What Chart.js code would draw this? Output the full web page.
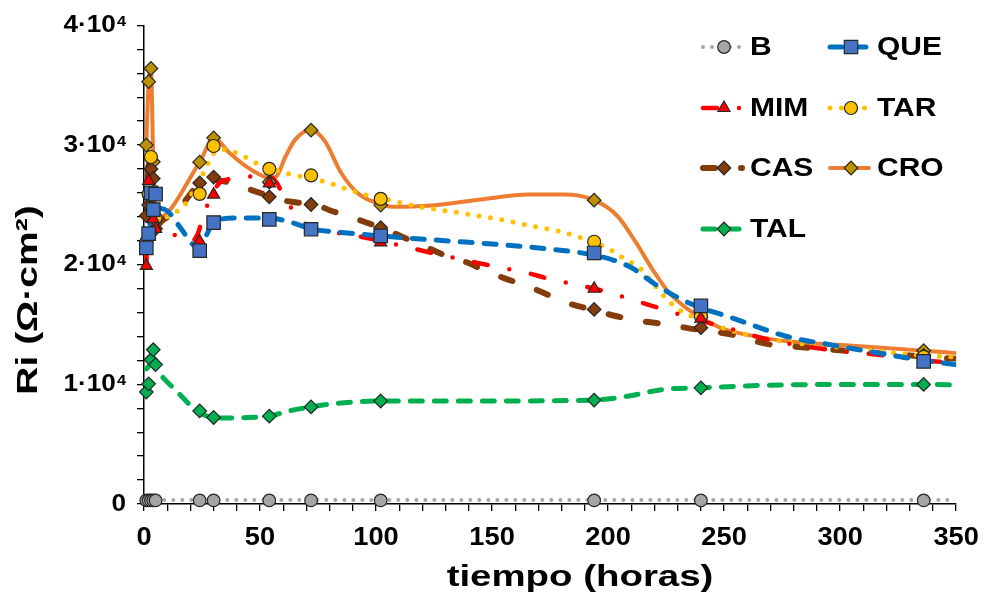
<!DOCTYPE html>
<html>
<head>
<meta charset="utf-8">
<script src="https://cdn.jsdelivr.net/npm/chart.js@4"></script>
<style>
  html, body { margin: 0; padding: 0; background: #ffffff; }
  #lienzo { display: block; }
</style>
</head>
<body>
<canvas id="lienzo" width="989" height="594"></canvas>
<script>
// Tiempos de medida (horas)
const horas = [1, 2, 3, 4, 5, 24, 30, 54, 72, 102, 194, 240, 336];

// Resistencia Ri (Ω·cm²) medida para cada inhibidor
const riB   = [300, 300, 300, 300, 300, 300, 300, 300, 300, 300, 300, 300, 300];
const riQUE = [21400, 22600, 26000, 24600, 25900, 21170, 23520, 23790, 22960, 22410, 20980, 16560, 11920];
const riMIM = [19900, 27000, 24800, 23800, 23000, 21940, 25860, 26800, 22900, 21860, 17990, 15500, 11780];
const riTAR = [21900, 25900, 29000, 24500, 23900, 25920, 29920, 28010, 27460, 25500, 21920, 15700, 12300];
const riCAS = [24100, 25000, 28000, 27200, 23000, 26830, 27320, 25670, 25030, 23100, 16260, 14740, 12400];
const riCRO = [30000, 35300, 36400, 28600, 23800, 28570, 30600, 26900, 31240, 24980, 25390, 15590, 12810];
const riTAL = [9360, 10040, 12060, 12890, 11650, 7780, 7230, 7340, 8110, 8610, 8690, 9710, 9990];

// Curvas de ajuste suavizadas (horas, Ri)
const ajusteB_h   = [1, 350];
const ajusteB_ri  = [330, 330];
const ajusteQUE_h  = [1, 2, 3, 4, 6, 10, 16, 21, 24, 27, 30, 40, 54, 64, 72, 85, 102, 130, 152, 175, 194, 205, 211, 220, 231, 240, 252, 277, 296, 320, 336, 350];
const ajusteQUE_ri = [21400, 22500, 24000, 24700, 24700, 24500, 23000, 21700, 21400, 22500, 23600, 23900, 23900, 23500, 23000, 22700, 22400, 22000, 21700, 21300, 20800, 20200, 19650, 18400, 17160, 16400, 15650, 14000, 13300, 12500, 12000, 11650];
const ajusteMIM_h  = [1, 2, 3, 5, 8, 12, 16, 20, 23, 25, 28, 33, 40, 52, 57, 61, 67, 72, 85, 102, 114, 126, 150, 164, 175, 188, 200, 212, 225, 240, 250, 270, 295, 320, 336, 350];
const ajusteMIM_ri = [19900, 27000, 25500, 23300, 22900, 22600, 22200, 21900, 22500, 23700, 25300, 26900, 27200, 27500, 26900, 25400, 24000, 23000, 22600, 22000, 21440, 20900, 19900, 19370, 18800, 18270, 17700, 16970, 16200, 15300, 14800, 13700, 12900, 12400, 12000, 11780];
const ajusteTAR_h  = [1, 3, 5, 11, 17.5, 22, 26, 30, 35, 41, 50, 61, 72, 80, 85, 95, 111, 121, 131, 147, 157, 167, 178, 188, 199, 206, 214, 218, 225, 232, 240, 255, 275, 300, 336, 350];
const ajusteTAR_ri = [21900, 22800, 23500, 24100, 25000, 26400, 27800, 29300, 29600, 29250, 28340, 27660, 27200, 26830, 26470, 25860, 25170, 24760, 24480, 23990, 23650, 23240, 22830, 22270, 21450, 20620, 19650, 18800, 17160, 16060, 15400, 14400, 13600, 13100, 12400, 12300];
const ajusteCAS_h  = [1, 2, 3, 4, 5, 8, 14, 20, 23, 28, 35, 42, 50, 58, 66, 75, 80, 88, 94, 104, 112, 122, 130, 139, 147, 156, 164, 173, 181, 191, 199, 208, 216, 226, 235, 245, 254, 264, 271, 280, 289, 306, 325, 343, 350];
const ajusteCAS_ri = [24100, 28300, 27500, 25000, 23200, 23700, 24500, 25900, 26700, 27100, 26950, 26500, 26000, 25450, 25200, 24950, 24550, 24070, 23650, 22960, 22270, 21440, 20760, 20200, 19510, 18820, 18300, 17580, 16890, 16340, 15920, 15500, 15240, 14990, 14680, 14410, 14130, 13580, 13300, 13160, 13020, 12750, 12500, 12200, 12150];
const ajusteCRO_h  = [1, 2, 3, 4, 5, 24, 30, 37, 44, 50, 54, 57, 61, 65, 72, 78, 85, 92, 100, 107, 124, 145, 166, 181, 194, 204, 212, 219, 226, 235, 240, 249, 264, 278, 299, 321, 336, 350];
const ajusteCRO_ri = [30000, 35300, 36400, 28600, 23800, 28570, 30600, 29310, 28210, 27520, 27240, 27380, 29040, 30410, 31300, 30300, 27660, 26000, 25170, 24840, 24950, 25450, 25860, 25860, 25390, 24070, 21860, 19650, 17720, 16200, 15590, 14680, 13990, 13580, 13300, 13020, 12810, 12610];
const ajusteTAL_h  = [1, 3, 5, 8.3, 15.4, 21, 26.8, 35, 45, 54, 62.5, 72, 82, 94, 102, 150, 194, 209, 224, 240, 266, 300, 336, 350];
const ajusteTAL_ri = [11300, 11650, 11300, 10540, 9170, 8060, 7370, 7180, 7230, 7340, 7780, 8110, 8390, 8560, 8610, 8610, 8690, 9030, 9580, 9710, 9910, 9990, 9990, 9950];

// Marcas del eje X y del eje Y
const marcasX = [0, 50, 100, 150, 200, 250, 300, 350];
const marcasY = [0, 10000, 20000, 30000, 40000];

// Estilo de cada serie
const series = [
  { nombre: 'B',   ri: riB,   ah: ajusteB_h,   ar: ajusteB_ri,   linea: '#A6A6A6', relleno: '#A5A5A5', marca: 'circle',  radio: 6.3, grosor: 4,   guion: [0, 9] },
  { nombre: 'QUE', ri: riQUE, ah: ajusteQUE_h, ar: ajusteQUE_ri, linea: '#0070C0', relleno: '#4472C4', marca: 'rect',    radio: 9.5, grosor: 5,   guion: [12, 12] },
  { nombre: 'MIM', ri: riMIM, ah: ajusteMIM_h, ar: ajusteMIM_ri, linea: '#FF0000', relleno: '#FF0000', marca: 'triangle',radio: 7,   grosor: 4.5, guion: [14, 22, 0, 22] },
  { nombre: 'TAR', ri: riTAR, ah: ajusteTAR_h, ar: ajusteTAR_ri, linea: '#FFC000', relleno: '#FFC000', marca: 'circle',  radio: 6.5, grosor: 5,   guion: [0, 11.5] },
  { nombre: 'CAS', ri: riCAS, ah: ajusteCAS_h, ar: ajusteCAS_ri, linea: '#843C0C', relleno: '#843C0C', marca: 'rectRot', radio: 6.8, grosor: 6,   guion: [12, 26] },
  { nombre: 'CRO', ri: riCRO, ah: ajusteCRO_h, ar: ajusteCRO_ri, linea: '#ED7D31', relleno: '#BF9000', marca: 'rectRot', radio: 6.8, grosor: 4,   guion: [] },
  { nombre: 'TAL', ri: riTAL, ah: ajusteTAL_h, ar: ajusteTAL_ri, linea: '#00B050', relleno: '#00B050', marca: 'rectRot', radio: 6.8, grosor: 5,   guion: [12, 12] }
];

const FUENTE = "'Liberation Sans', Arial, sans-serif";
const BORDE_MARCA = '#262626';

// Texto algo ensanchado horizontalmente; el exponente ⁴ se escribe como superíndice
const lienzo = document.getElementById('lienzo');
const ctx0 = lienzo.getContext('2d');
const fillTextNativo = ctx0.fillText;
let ensanche = 1.09;
function escribir(c, t, x, y) {
  c.save();
  c.translate(x, y);
  c.scale(ensanche, 1);
  fillTextNativo.call(c, t, 0, 0);
  c.restore();
}
ctx0.fillText = function (t, x, y) {
  if (typeof t === 'string' && t.endsWith('⁴')) {
    const base = t.slice(0, -1);
    this.save();
    const fuenteBase = this.font;
    this.font = 'bold 15px ' + FUENTE;
    const anchoSup = this.measureText('4').width * ensanche;
    this.font = fuenteBase;
    this.textAlign = 'right';
    escribir(this, base, x - anchoSup - 1, y);
    this.font = 'bold 15px ' + FUENTE;
    this.textAlign = 'left';
    escribir(this, '4', x - anchoSup, y - 3.5);
    this.restore();
    return;
  }
  escribir(this, t, x, y);
};

const datasets = [];
series.forEach(s => {
  datasets.push({
    label: s.nombre + ' ajuste',
    data: s.ah.map((h, i) => ({ x: h, y: s.ar[i] })),
    showLine: true,
    borderColor: s.linea,
    borderWidth: s.grosor,
    borderDash: s.guion,
    borderCapStyle: 'round',
    borderJoinStyle: 'round',
    cubicInterpolationMode: 'monotone',
    pointRadius: 0,
    fill: false,
    order: 2
  });
});
series.forEach(s => {
  datasets.push({
    label: s.nombre,
    data: horas.map((h, i) => ({ x: h, y: s.ri[i] })),
    showLine: false,
    pointStyle: s.marca,
    pointRadius: s.radio,
    backgroundColor: s.relleno,
    borderColor: BORDE_MARCA,
    borderWidth: 1.2,
    clip: false,
    order: 1
  });
});

// Leyenda en dos columnas dentro del área del gráfico
const leyendaCol = [701, 828];
const leyendaFila = [47, 108, 168, 229];
const leyenda = {
  id: 'leyendaInterna',
  afterDraw(chart) {
    const ctx = chart.ctx;
    series.forEach((s, i) => {
      const x0 = leyendaCol[i % 2];
      const y = leyendaFila[Math.floor(i / 2)];
      ctx.save();
      ctx.strokeStyle = s.linea;
      ctx.lineWidth = s.grosor;
      ctx.lineCap = 'round';
      ctx.setLineDash(s.guion);
      ctx.beginPath();
      ctx.moveTo(x0 + 2, y);
      ctx.lineTo(x0 + 41, y);
      ctx.stroke();
      ctx.setLineDash([]);
      ctx.fillStyle = s.relleno;
      ctx.strokeStyle = BORDE_MARCA;
      ctx.lineWidth = 1.2;
      Chart.helpers.drawPoint(ctx, { pointStyle: s.marca, radius: s.radio, rotation: 0, borderWidth: 1.2 }, x0 + 23, y);
      ctx.fillStyle = '#000000';
      ctx.font = 'bold 25px ' + FUENTE;
      ctx.textAlign = 'left';
      ctx.textBaseline = 'middle';
      ensanche = 1.2;
      ctx.fillText(s.nombre, x0 + 49, y + 1);
      ctx.restore();
    });

    // Títulos de los ejes
    ctx.save();
    ctx.fillStyle = '#000000';
    ctx.font = 'bold 30px ' + FUENTE;
    ctx.textAlign = 'center';
    ctx.textBaseline = 'alphabetic';
    ensanche = 1.28;
    ctx.fillText('tiempo (horas)', 580, 586);
    ctx.translate(37, 300);
    ctx.rotate(-Math.PI / 2);
    ensanche = 1.3;
    ctx.fillText('Ri (Ω·cm²)', 0, 0);
    ctx.restore();
    ensanche = 1.09;
  }
};

new Chart(ctx0, {
  type: 'scatter',
  data: { datasets },
  options: {
    responsive: false,
    animation: false,
    events: [],
    layout: { padding: { left: 0, top: 21, right: 27, bottom: 0 } },
    plugins: { legend: { display: false }, tooltip: { enabled: false }, title: { display: false } },
    scales: {
      x: {
        type: 'linear', min: 0, max: 350,
        afterFit(scale) { scale.height = 90; },
        ticks: {
          stepSize: 10, autoSkip: false, maxRotation: 0, padding: 12,
          color: '#000000', font: { family: FUENTE, size: 25, weight: 'bold' },
          callback: v => marcasX.includes(v) ? String(v) : ''
        },
        grid: { display: true, drawOnChartArea: false, drawTicks: true, tickLength: 7, color: '#000000', lineWidth: 1.3 },
        border: { display: true, color: '#000000', width: 1.5 },
        title: { display: false }
      },
      y: {
        type: 'linear', min: 0, max: 40000,
        afterFit(scale) { scale.width = 144; },
        ticks: {
          stepSize: 2000, autoSkip: false, padding: 11,
          color: '#000000', font: { family: FUENTE, size: 24, weight: 'bold' },
          callback: v => marcasY.includes(v) ? (v === 0 ? '0' : (v / 10000) + '·10⁴') : ''
        },
        grid: { display: true, drawOnChartArea: false, drawTicks: true, tickLength: 7, color: '#000000', lineWidth: 1.3 },
        border: { display: true, color: '#000000', width: 1.5 },
        title: { display: false }
      }
    }
  },
  plugins: [leyenda]
});
</script>
</body>
</html>
